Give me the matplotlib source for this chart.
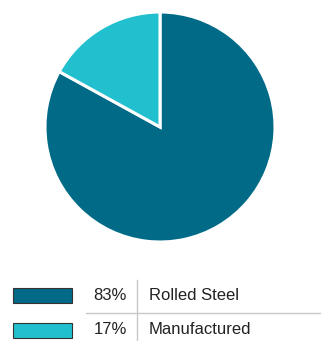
import matplotlib
matplotlib.use("Agg")
import matplotlib.pyplot as plt
from matplotlib.patches import Rectangle
from matplotlib.lines import Line2D

labels = ["Rolled Steel", "Manufactured"]
values = [83, 17]
colors = ["#006A87", "#22C0CF"]

W, H = 321, 341
fig = plt.figure(figsize=(W/100, H/100), dpi=100)

def fx(x): return x / W
def fy(y): return 1 - y / H

cx, cy, r = 160, 127, 115
ax = fig.add_axes([fx(cx - r), fy(cy + r), 2*r/W, 2*r/H])
ax.pie(values, colors=colors, startangle=90, counterclock=False,
       wedgeprops=dict(edgecolor="white", linewidth=2.2))
ax.set_xlim(-1, 1); ax.set_ylim(-1, 1)
ax.set_aspect("equal"); ax.axis("off")

font = "Liberation Sans"
rows_y = [295, 330]
for i, (lab, v, c) in enumerate(zip(labels, values, colors)):
    y = rows_y[i]
    fig.patches.append(Rectangle((fx(13), fy(y + 7.5)), 59/W, 15/H,
                                 transform=fig.transFigure, facecolor=c,
                                 edgecolor="#333333", linewidth=0.8))
    fig.text(fx(127), fy(y), f"{v}%", ha="right", va="center",
             fontsize=12, color="#222222", family=font)
    fig.text(fx(149), fy(y), lab, ha="left", va="center",
             fontsize=12, color="#222222", family=font)

fig.lines.append(Line2D([fx(137), fx(137)], [fy(280), fy(341)],
                        transform=fig.transFigure, color="#c8c8c8", linewidth=1))
fig.lines.append(Line2D([fx(86), fx(321)], [fy(313), fy(313)],
                        transform=fig.transFigure, color="#c8c8c8", linewidth=1))

fig.savefig("out.png", dpi=100, facecolor="white")
